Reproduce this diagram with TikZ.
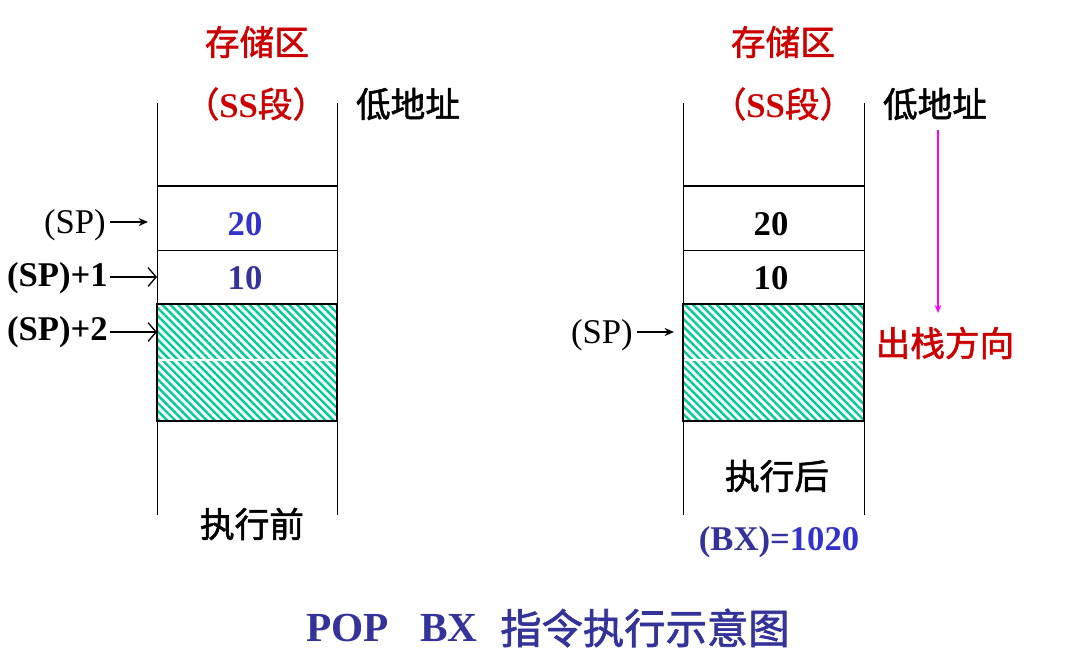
\documentclass[tikz,border=0pt]{standalone}
\usepackage{fontspec}
\setmainfont{Liberation Serif}
\newfontfamily\cjk[FakeBold=1.6]{Noto Sans CJK SC}
\usetikzlibrary{patterns.meta,arrows.meta}
\definecolor{sred}{RGB}{204,0,0}
\definecolor{sblue}{RGB}{51,51,204}
\definecolor{snavy}{RGB}{51,51,153}
\definecolor{shatch}{RGB}{0,204,153}
\definecolor{smag}{RGB}{255,0,255}
\newcommand{\fsz}[1]{\fontsize{#1}{#1}\selectfont}
\newcommand{\latb}[1]{{\rmfamily\bfseries #1}}
\begin{document}
\begin{tikzpicture}[x=0.75pt,y=-0.75pt,
  txt/.style={inner sep=0pt,font=\fsz{26pt}},
  ctxt/.style={inner sep=0pt,font=\fsz{26pt}\cjk},
  colline/.style={line width=0.75pt},
  thickline/.style={line width=1.5pt},
  hatchbox/.style={pattern={Lines[angle=-45,distance=4.2pt,line width=1.8pt]},pattern color=shatch},
  boldarrow/.style={line width=2pt,-{Stealth[length=7pt,width=6pt]}},
  openarrow/.style={line width=1pt,-{Straight Barb[length=6pt,width=14pt]}},
  dirarrow/.style={smag,line width=2pt,-{Stealth[length=6pt,width=5pt]}}
]
\useasboundingbox (0,0) rectangle (1075,665);

% ---------- left column ----------
\draw[colline] (157,103) -- (157,515);
\draw[colline] (337,103) -- (337,515);
\draw[thickline] (157,186) -- (337,186);
\draw[colline] (157,250) -- (337,250);
\fill[hatchbox] (157,304) rectangle (337,421);
\draw[white,line width=1pt] (158,360) -- (336,360);
\draw[thickline] (157,304) rectangle (337,421);

\node[ctxt,text=sred] (lmem) at (257,42) {存储区};
\node[ctxt,text=sred] (lss) at (256,104) {（\latb{SS}段）};
\node[ctxt] (llow) at (408,104) {低地址};
\node[txt,text=sblue,font=\fsz{26pt}\bfseries] (l20) at (245,224) {20};
\node[txt,text=snavy,font=\fsz{26pt}\bfseries] (l10) at (245,278) {10};
\node[ctxt] (lbefore) at (252,524) {执行前};

\node[txt,anchor=east] (lsp) at (106,225) {(SP)};
\node[txt,anchor=east,font=\fsz{26pt}\bfseries] (lsp1) at (108,278) {(SP)+1};
\node[txt,anchor=east,font=\fsz{26pt}\bfseries] (lsp2) at (108,332) {(SP)+2};
\coordinate (lspt) at (148,222);
\coordinate (lsp1t) at (157,277);
\coordinate (lsp2t) at (157,332);
\draw[boldarrow] (lsp.east |- lspt) ++(4,0) -- (lspt);
\draw[openarrow] (lsp1.east |- lsp1t) ++(2,0) -- (lsp1t);
\draw[openarrow] (lsp2.east |- lsp2t) ++(2,0) -- (lsp2t);

% ---------- right column ----------
\draw[colline] (683,103) -- (683,515);
\draw[colline] (864,103) -- (864,515);
\draw[thickline] (683,186) -- (864,186);
\draw[colline] (683,250) -- (864,250);
\fill[hatchbox] (683,304) rectangle (864,421);
\draw[white,line width=1pt] (684,360) -- (863,360);
\draw[thickline] (683,304) rectangle (864,421);

\node[ctxt,text=sred] (rmem) at (783,42) {存储区};
\node[ctxt,text=sred] (rss) at (783,104) {（\latb{SS}段）};
\node[ctxt] (rlow) at (935,104) {低地址};
\node[txt,font=\fsz{26pt}\bfseries] (r20) at (771,224) {20};
\node[txt,font=\fsz{26pt}\bfseries] (r10) at (771,278) {10};
\node[ctxt] (rafter) at (777,476) {执行后};
\node[txt,font=\fsz{26pt}\bfseries] (rbx) at (779,542) {\textcolor{snavy}{(BX)=}\textcolor{sblue}{1020}};

\node[txt,anchor=east] (rsp) at (633,335) {(SP)};
\coordinate (rspt) at (674,332);
\draw[boldarrow] (rsp.east |- rspt) ++(4,0) -- (rspt);

\coordinate (dirtop) at (938,130);
\coordinate (dirbot) at (938,313);
\draw[dirarrow] (dirtop) -- (dirbot);
\node[ctxt,text=sred] (rdir) at (945,343) {出栈方向};

% ---------- title ----------
\node[inner sep=0pt,anchor=west,text=snavy,font=\fsz{31pt}\bfseries] (tpop) at (306,628) {POP};
\node[inner sep=0pt,anchor=west,text=snavy,font=\fsz{31pt}\bfseries] (tbx) at (420,628) {BX};
\node[inner sep=0pt,anchor=west,text=snavy,font=\fsz{31pt}\cjk] (tcn) at (500,628) {指令执行示意图};
\end{tikzpicture}
\end{document}
